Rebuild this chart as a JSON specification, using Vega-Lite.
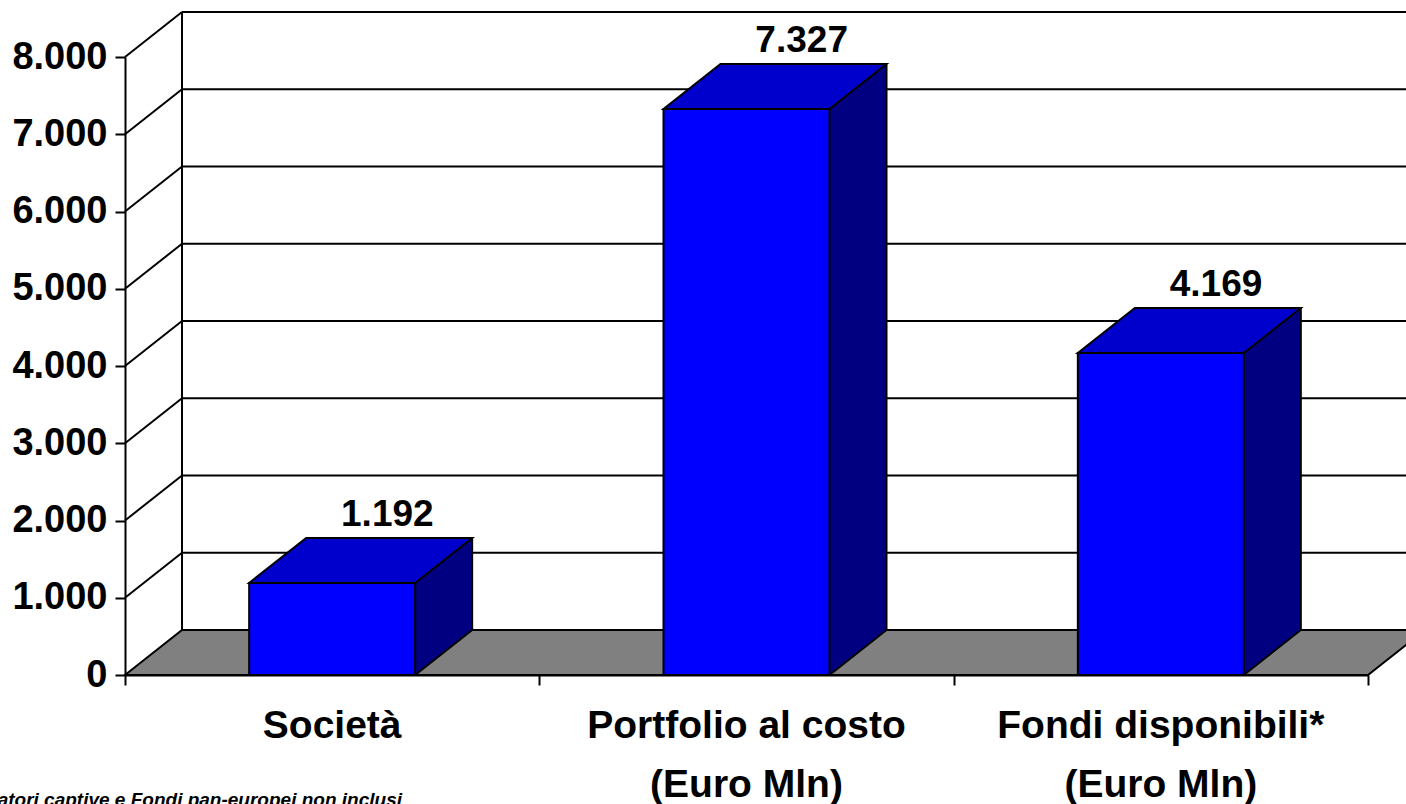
{
  "$schema": "https://vega.github.io/schema/vega-lite/v6.json",
  "width": 1243,
  "height": 618,
  "autosize": {"type": "none"},
  "padding": {"left": 125, "top": 57, "right": 38, "bottom": 129},
  "background": "white",
  "config": {
    "view": {"stroke": null},
    "font": "Liberation Sans"
  },
  "datasets": {
    "bars": [
      {"category": "Società", "value": 1192},
      {"category": "Portfolio al costo\n(Euro Mln)", "value": 7327},
      {"category": "Fondi disponibili*\n(Euro Mln)", "value": 4169}
    ],
    "ticks": [
      {"v": 1000}, {"v": 2000}, {"v": 3000}, {"v": 4000},
      {"v": 5000}, {"v": 6000}, {"v": 7000}, {"v": 8000}
    ]
  },
  "layer": [
    {
      "data": {"values": [{}]},
      "mark": {"type": "point", "shape": "M0,0L1243,0L1300,-45L57,-45Z", "size": 4, "filled": true, "fill": "#808080", "stroke": "#000000", "strokeWidth": 2, "opacity": 1},
      "encoding": {
        "x": {
          "datum": 0, "type": "quantitative", "title": null,
          "scale": {"domain": [0, 3], "nice": false, "zero": false},
          "axis": {"title": null, "values": [0, 1, 2, 3], "labels": false, "grid": false, "tickSize": 10, "tickWidth": 2, "tickColor": "#000000", "domainWidth": 2, "domainColor": "#000000"}
        },
        "y": {
          "datum": 0, "type": "quantitative", "title": null,
          "scale": {"domain": [0, 8000], "nice": false},
          "axis": {
            "title": null, "values": [0, 1000, 2000, 3000, 4000, 5000, 6000, 7000, 8000],
            "labelExpr": "replace(format(datum.value, ','), ',', '.')",
            "grid": false, "tickSize": 10, "tickWidth": 2, "tickColor": "#000000",
            "domainWidth": 2, "domainColor": "#000000",
            "labelFontSize": 38, "labelFontWeight": "bold", "labelColor": "#000000", "labelPadding": 8
          }
        }
      }
    },
    {
      "data": {"name": "ticks"},
      "mark": {"type": "rule", "xOffset": 57, "x2Offset": 120, "yOffset": -45, "color": "#000000", "strokeWidth": 2},
      "encoding": {
        "x": {"datum": 0, "type": "quantitative", "scale": {"domain": [0, 3], "nice": false, "zero": false}},
        "x2": {"datum": 3},
        "y": {"field": "v", "type": "quantitative", "title": null, "scale": {"domain": [0, 8000], "nice": false}}
      }
    },
    {
      "data": {"name": "ticks"},
      "mark": {"type": "rule", "x2Offset": 57, "y2Offset": -45, "color": "#000000", "strokeWidth": 2},
      "encoding": {
        "x": {"datum": 0, "type": "quantitative", "scale": {"domain": [0, 3], "nice": false, "zero": false}},
        "x2": {"datum": 0},
        "y": {"field": "v", "type": "quantitative", "title": null, "scale": {"domain": [0, 8000], "nice": false}},
        "y2": {"field": "v"}
      }
    },
    {
      "data": {"values": [{}]},
      "mark": {"type": "rule", "xOffset": 57, "yOffset": -45, "y2Offset": -45, "color": "#000000", "strokeWidth": 2},
      "encoding": {
        "x": {"datum": 0, "type": "quantitative", "scale": {"domain": [0, 3], "nice": false, "zero": false}},
        "y": {"datum": 0, "type": "quantitative", "scale": {"domain": [0, 8000], "nice": false}},
        "y2": {"datum": 8000}
      }
    },
    {
      "data": {"values": [{"note": "* Fondi di operatori captive e Fondi pan-europei non inclusi"}]},
      "mark": {"type": "text", "align": "right", "baseline": "alphabetic", "dx": 277, "fontSize": 19, "fontWeight": "bold", "fontStyle": "italic", "color": "#000000"},
      "encoding": {
        "x": {"datum": 0, "type": "quantitative", "scale": {"domain": [0, 3], "nice": false, "zero": false}},
        "y": {"datum": -1690, "type": "quantitative", "scale": {"domain": [0, 8000], "nice": false}},
        "text": {"field": "note"}
      }
    },
    {
      "data": {"name": "bars"},
      "transform": [{"window": [{"op": "row_number", "as": "idx"}]}],
      "layer": [
        {
          "mark": {"type": "rect", "xOffset": -124.17, "x2Offset": -67.17, "yOffset": -45, "y2Offset": -45, "fill": "#000080", "strokeWidth": 0},
          "encoding": {
            "x": {"field": "idx", "type": "quantitative", "title": null, "scale": {"domain": [0, 3], "nice": false, "zero": false}},
            "x2": {"field": "idx"},
            "y": {"field": "value", "type": "quantitative", "title": null, "scale": {"domain": [0, 8000], "nice": false}},
            "y2": {"datum": 0}
          }
        },
        {
          "mark": {"type": "point", "shape": "M-124.17,0L-67.17,-45L-124.17,-45Z", "size": 4, "filled": true, "fill": "#000080", "strokeWidth": 0, "opacity": 1},
          "encoding": {
            "x": {"field": "idx", "type": "quantitative", "title": null, "scale": {"domain": [0, 3], "nice": false, "zero": false}},
            "y": {"datum": 0, "type": "quantitative", "scale": {"domain": [0, 8000], "nice": false}}
          }
        },
        {
          "mark": {"type": "point", "shape": "M-124.17,0L-67.17,-45", "size": 4, "filled": false, "stroke": "#000000", "strokeWidth": 2, "opacity": 1},
          "encoding": {
            "x": {"field": "idx", "type": "quantitative", "title": null, "scale": {"domain": [0, 3], "nice": false, "zero": false}},
            "y": {"datum": 0, "type": "quantitative", "scale": {"domain": [0, 8000], "nice": false}}
          }
        },
        {
          "mark": {"type": "rule", "xOffset": -67.17, "yOffset": -45, "y2Offset": -45, "color": "#000000", "strokeWidth": 2},
          "encoding": {
            "x": {"field": "idx", "type": "quantitative", "title": null, "scale": {"domain": [0, 3], "nice": false, "zero": false}},
            "y": {"field": "value", "type": "quantitative", "title": null, "scale": {"domain": [0, 8000], "nice": false}},
            "y2": {"datum": 0}
          }
        },
        {
          "mark": {"type": "rect", "xOffset": -290.17, "x2Offset": -124.17, "fill": "#0000FF", "stroke": "#000000", "strokeWidth": 2},
          "encoding": {
            "x": {"field": "idx", "type": "quantitative", "title": null, "scale": {"domain": [0, 3], "nice": false, "zero": false}},
            "x2": {"field": "idx"},
            "y": {"field": "value", "type": "quantitative", "title": null, "scale": {"domain": [0, 8000], "nice": false}},
            "y2": {"datum": 0}
          }
        },
        {
          "mark": {"type": "point", "shape": "M-290.17,0L-124.17,0L-67.17,-45L-233.17,-45Z", "size": 4, "filled": true, "fill": "#0000CC", "stroke": "#000000", "strokeWidth": 2, "opacity": 1},
          "encoding": {
            "x": {"field": "idx", "type": "quantitative", "title": null, "scale": {"domain": [0, 3], "nice": false, "zero": false}},
            "y": {"field": "value", "type": "quantitative", "title": null, "scale": {"domain": [0, 8000], "nice": false}}
          }
        },
        {
          "transform": [{"calculate": "replace(format(datum.value, ','), ',', '.')", "as": "label"}],
          "mark": {"type": "text", "dx": -152, "dy": -57, "baseline": "alphabetic", "align": "center", "fontSize": 37, "fontWeight": "bold", "color": "#000000"},
          "encoding": {
            "x": {"field": "idx", "type": "quantitative", "title": null, "scale": {"domain": [0, 3], "nice": false, "zero": false}},
            "y": {"field": "value", "type": "quantitative", "title": null, "scale": {"domain": [0, 8000], "nice": false}},
            "text": {"field": "label", "type": "nominal"}
          }
        },
        {
          "mark": {"type": "text", "dx": -207.17, "baseline": "alphabetic", "align": "center", "lineBreak": "\n", "lineHeight": 59, "fontSize": 39, "fontWeight": "bold", "color": "#000000"},
          "encoding": {
            "x": {"field": "idx", "type": "quantitative", "title": null, "scale": {"domain": [0, 3], "nice": false, "zero": false}},
            "y": {"datum": -815, "type": "quantitative", "scale": {"domain": [0, 8000], "nice": false}},
            "text": {"field": "category", "type": "nominal"}
          }
        }
      ]
    }
  ]
}
